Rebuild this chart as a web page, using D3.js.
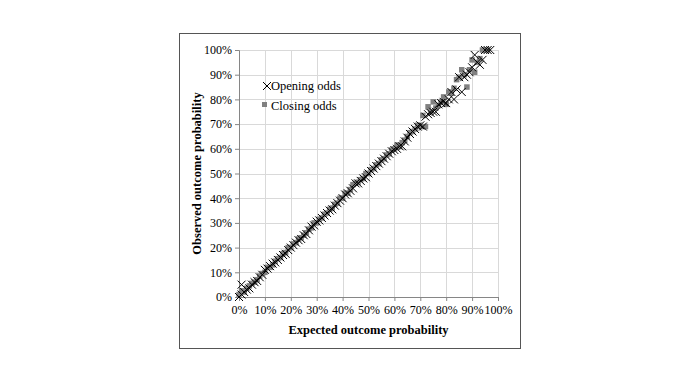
<!DOCTYPE html>
<html>
<head>
<meta charset="utf-8">
<script src="https://cdn.jsdelivr.net/npm/d3@7"></script>
<style>
  body { margin: 0; background: #fff; }
  svg { display: block; }
</style>
</head>
<body>
<script>
// opening odds (x = expected, y = observed), in %
var openX = [0, 1, 1, 2, 3, 4, 5, 6, 7, 8, 9, 10, 11, 12, 13, 14, 15, 16, 17, 18, 19, 20, 21, 22, 23, 24, 25, 26, 27, 28, 29,
  30, 31, 32, 33, 34, 35, 36, 37, 38, 39, 40, 41, 42, 43, 44, 45, 46, 47, 48, 49, 50, 51, 52, 53, 54, 55, 56, 57, 58, 59,
  60, 61, 62, 63, 64, 65, 66, 67, 68, 69, 70, 71, 72, 73, 74, 75, 76, 77, 78, 79, 80, 81, 82, 83, 84, 85, 86, 87, 88, 89,
  90, 91, 92, 93, 94, 95, 96, 97];
var openY = [0, 5, 1, 2, 3, 3.5, 5, 6, 6.5, 8, 9, 11, 11.5, 12.5, 13.5, 14, 15, 16, 17, 17.5, 19, 20, 21, 22, 23, 23.5, 25, 25.5, 27, 28.5, 29,
  30.5, 31, 32, 33, 34, 35, 35.5, 37, 38, 39, 40, 41.5, 42, 43, 44, 46, 46, 47, 48, 48.5, 50, 51, 52, 53, 54, 55, 56, 57, 58, 59,
  59.5, 60, 61, 61, 63, 64.5, 66, 67, 68, 69, 69.5, 69, 73, 74, 74.5, 75, 75, 78, 78.5, 79, 78.5, 80, 83, 80, 84, 89, 83, 89, 90, 91, 93,
  98, 95, 94, 96, 100, 100, 100, 100];
// closing odds
var closeX = [0, 1, 2, 3, 4, 5, 6, 7, 8, 9, 10, 11, 12, 13, 14, 15, 16, 17, 18, 19, 20, 21, 22, 23, 24, 25, 26, 27, 28, 29,
  30, 31, 32, 33, 34, 35, 36, 37, 38, 39, 40, 41, 42, 43, 44, 45, 46, 47, 48, 49, 50, 51, 52, 53, 54, 55, 56, 57, 58, 59,
  60, 61, 62, 63, 64, 65, 66, 67, 68, 69, 70, 71, 72, 73, 74, 75, 76, 77, 78, 79, 80, 81, 82, 83, 84, 85, 86, 87, 88, 89,
  90, 91, 92, 93, 94, 95, 96];
var closeY = [1, 2.5, 2, 3.5, 4.5, 5.5, 6, 7, 8.5, 9.5, 10, 12, 12, 13, 14.5, 15.5, 16, 17.5, 18, 20, 20, 21.5, 22, 23.5, 24, 25, 26, 27.5, 28, 30, 
  30, 31.5, 32, 33.5, 34, 35.5, 36, 37.5, 38, 40, 40, 42, 42, 43.5, 45.5, 46, 46.5, 47.5, 48, 50, 50, 51.5, 52, 53.5, 54, 55.5, 56, 57.5, 58, 59.5,
  60, 61.5, 61, 62.5, 63.5, 65, 66.5, 67, 68, 69.5, 69, 73.5, 69, 77, 75, 79, 76.5, 77.5, 79, 81, 78, 83, 82.5, 84.5, 88, 89, 92, 90, 85, 92,
  96, 91, 95, 96.5, 100, 100, 100];
var tickVals = [0, 10, 20, 30, 40, 50, 60, 70, 80, 90, 100];
var legendNames = ["Opening odds", "Closing odds"];

var W = 700, H = 380;
var margin = {left: 239, right: 202, top: 50, bottom: 83};
var width = W - margin.left - margin.right,
    height = H - margin.top - margin.bottom;

var svg = d3.select("body").append("svg")
    .attr("width", W)
    .attr("height", H);

// outer frame
svg.append("rect")
    .attr("x", 179.5).attr("y", 33.5)
    .attr("width", 341).attr("height", 315)
    .attr("fill", "none")
    .attr("stroke", "#555")
    .attr("stroke-width", 1);

var g = svg.append("g")
    .attr("transform", "translate(" + margin.left + "," + margin.top + ")");

var x = d3.scaleLinear().domain([0, 100]).range([0, width]);
var y = d3.scaleLinear().domain([0, 100]).range([height, 0]);

// grid
g.selectAll(".vgrid").data(tickVals.slice(1)).enter().append("line")
    .attr("x1", function (d) { return Math.round(x(d)) + 0.5; })
    .attr("x2", function (d) { return Math.round(x(d)) + 0.5; })
    .attr("y1", 0).attr("y2", height)
    .attr("stroke", "#d9d9d9");
g.selectAll(".hgrid").data(tickVals.slice(1)).enter().append("line")
    .attr("y1", function (d) { return Math.round(y(d)) + 0.5; })
    .attr("y2", function (d) { return Math.round(y(d)) + 0.5; })
    .attr("x1", 0).attr("x2", width)
    .attr("stroke", "#d9d9d9");

var fmt = function (d) { return d + "%"; };

var xAxis = g.append("g")
    .attr("transform", "translate(0," + height + ")")
    .call(d3.axisBottom(x).tickValues(tickVals).tickFormat(fmt).tickSize(4).tickPadding(4));
var yAxis = g.append("g")
    .call(d3.axisLeft(y).tickValues(tickVals).tickFormat(fmt).tickSize(4).tickPadding(3));

[xAxis, yAxis].forEach(function (a) {
    a.select(".domain").attr("stroke", "#868686");
    a.selectAll(".tick line").attr("stroke", "#868686");
    a.selectAll("text")
        .attr("fill", "#000")
        .style("font-family", "'Liberation Serif', 'Times New Roman', serif")
        .style("font-size", "12px");
});

// closing odds squares
var sq = 5.5;
g.selectAll(".close").data(closeX).enter().append("rect")
    .attr("x", function (d) { return x(d) - sq / 2; })
    .attr("y", function (d, i) { return y(closeY[i]) - sq / 2; })
    .attr("width", sq).attr("height", sq)
    .attr("fill", "#808080");

// opening odds crosses
var cs = 4;
g.selectAll(".open").data(openX).enter().append("path")
    .attr("d", function (d, i) {
        var cx = x(d), cy = y(openY[i]);
        return "M" + (cx - cs) + "," + (cy - cs) + "L" + (cx + cs) + "," + (cy + cs) +
            "M" + (cx - cs) + "," + (cy + cs) + "L" + (cx + cs) + "," + (cy - cs);
    })
    .attr("stroke", "#000")
    .attr("stroke-width", 1)
    .attr("fill", "none");

// legend
var lg = svg.append("g").style("font-family", "'Liberation Serif', 'Times New Roman', serif")
    .style("font-size", "12.5px");
lg.append("path")
    .attr("d", "M263,82L271,90M263,90L271,82")
    .attr("stroke", "#000").attr("fill", "none");
lg.append("text").attr("x", 271).attr("y", 90).text(legendNames[0]);
lg.append("rect").attr("x", 262).attr("y", 102).attr("width", 5).attr("height", 5).attr("fill", "#808080");
lg.append("text").attr("x", 271).attr("y", 110).text(legendNames[1]);

// axis titles
svg.append("text")
    .attr("x", margin.left + width / 2).attr("y", 334)
    .attr("text-anchor", "middle")
    .style("font-family", "'Liberation Serif', 'Times New Roman', serif")
    .style("font-size", "12.5px").style("font-weight", "bold")
    .text("Expected outcome probability");
svg.append("text")
    .attr("transform", "translate(201," + (margin.top + height / 2) + ") rotate(-90)")
    .attr("text-anchor", "middle")
    .style("font-family", "'Liberation Serif', 'Times New Roman', serif")
    .style("font-size", "12.5px").style("font-weight", "bold")
    .text("Observed outcome probability");
</script>
</body>
</html>
